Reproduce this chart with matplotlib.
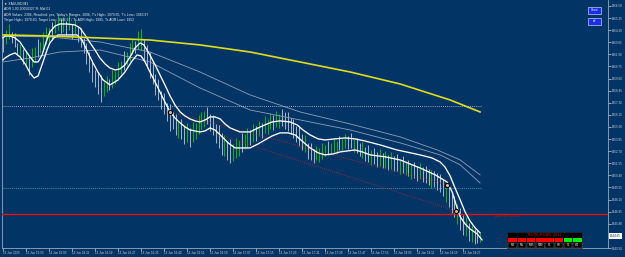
import matplotlib
matplotlib.use('Agg')
import matplotlib.pyplot as plt
import matplotlib.transforms as mtrans
from matplotlib.patches import Rectangle

plt.rcParams['font.family'] = ['Liberation Sans', 'DejaVu Sans']

# M1 bars, XAUUSD (high / low per bar, g = up bar, w = down bar)
highs = [
    1963.5, 1964.2, 1964.8, 1964.0, 1963.9, 1963.0, 1962.9, 1962.4, 1962.3, 1961.8,
    1962.5, 1962.6, 1963.4, 1963.1, 1964.0, 1964.5, 1964.4, 1965.0, 1965.2, 1965.7,
    1965.3, 1965.5, 1965.1, 1965.6, 1964.8, 1965.2, 1964.6, 1964.4, 1963.5, 1963.0,
    1962.1, 1961.4, 1960.4, 1960.2, 1959.9, 1959.3, 1959.8, 1959.6, 1960.4, 1960.3,
    1961.2, 1961.3, 1962.2, 1962.1, 1963.0, 1963.4, 1963.2, 1964.1, 1964.3, 1963.4,
    1962.8, 1962.1, 1961.2, 1960.0, 1959.6, 1958.4, 1958.2, 1957.3, 1957.2, 1956.4,
    1956.2, 1955.6, 1955.8, 1955.1, 1955.4, 1954.9, 1955.5, 1955.4, 1956.1, 1956.4,
    1956.5, 1956.9, 1956.2, 1956.1, 1955.3, 1955.2, 1954.4, 1954.2, 1953.7, 1953.9,
    1953.4, 1954.0, 1953.8, 1954.4, 1954.3, 1954.9, 1954.7, 1955.3, 1955.1, 1955.6,
    1955.4, 1956.0, 1955.8, 1956.3, 1956.1, 1956.5, 1956.2, 1956.7, 1956.4, 1956.4,
    1955.9, 1955.8, 1955.1, 1955.0, 1954.3, 1954.2, 1953.5, 1953.5, 1952.9, 1953.2,
    1953.0, 1953.5, 1953.3, 1953.7, 1953.5, 1953.9, 1953.7, 1954.1, 1953.9, 1954.3,
    1954.1, 1954.4, 1953.9, 1954.0, 1953.5, 1953.6, 1953.1, 1953.3, 1952.8, 1953.0,
    1952.6, 1952.9, 1952.5, 1952.7, 1952.3, 1952.6, 1952.2, 1952.4, 1951.9, 1952.2,
    1951.8, 1951.9, 1951.5, 1951.7, 1951.3, 1951.6, 1951.2, 1951.3, 1951.0, 1950.9,
    1950.8, 1950.6, 1950.5, 1950.1, 1949.7, 1949.3, 1948.6, 1948.4, 1947.7, 1947.3,
    1946.6, 1946.4, 1945.9, 1945.7, 1945.3, 1945.2, 1944.9]
lows = [
    1962.1, 1962.9, 1963.4, 1963.0, 1962.6, 1961.9, 1961.7, 1961.0, 1960.8, 1959.9,
    1960.7, 1961.2, 1961.7, 1962.0, 1962.4, 1962.9, 1963.1, 1963.4, 1963.9, 1964.2,
    1963.9, 1964.0, 1963.7, 1964.2, 1963.4, 1963.8, 1963.1, 1962.6, 1962.0, 1961.0,
    1960.2, 1959.3, 1958.8, 1958.1, 1957.4, 1957.9, 1958.3, 1958.5, 1958.7, 1959.1,
    1959.5, 1960.0, 1960.4, 1960.9, 1961.3, 1961.9, 1962.0, 1962.4, 1962.3, 1961.4,
    1960.6, 1959.7, 1959.1, 1958.0, 1957.6, 1956.7, 1956.2, 1955.6, 1954.6, 1954.8,
    1954.2, 1954.0, 1953.9, 1953.4, 1953.6, 1953.1, 1953.6, 1953.9, 1954.3, 1954.8,
    1955.0, 1955.3, 1954.6, 1954.2, 1953.5, 1953.0, 1952.3, 1952.2, 1951.9, 1951.6,
    1951.8, 1952.1, 1952.2, 1952.6, 1952.9, 1953.1, 1953.3, 1953.6, 1953.7, 1954.1,
    1954.0, 1954.4, 1954.3, 1954.8, 1954.7, 1955.0, 1954.9, 1955.1, 1954.8, 1954.6,
    1954.3, 1954.0, 1953.6, 1953.2, 1952.8, 1952.6, 1952.0, 1951.9, 1951.6, 1951.9,
    1951.7, 1952.0, 1952.2, 1952.3, 1952.4, 1952.6, 1952.5, 1952.8, 1952.7, 1953.0,
    1952.9, 1953.0, 1952.6, 1952.5, 1952.2, 1952.1, 1951.8, 1951.7, 1951.4, 1951.5,
    1951.2, 1951.3, 1951.1, 1951.1, 1950.9, 1951.0, 1950.8, 1950.8, 1950.5, 1950.6,
    1950.4, 1950.3, 1950.1, 1950.2, 1949.9, 1950.1, 1949.8, 1949.7, 1949.5, 1949.2,
    1949.3, 1949.0, 1948.8, 1948.4, 1947.9, 1947.4, 1946.8, 1946.4, 1945.8, 1945.2,
    1944.7, 1944.6, 1944.2, 1944.1, 1943.9, 1944.0, 1944.1]
dirs = ("wggwwwgwgw" "ggwggggwgg" "wgwgwgwwww" "wwwwwggwgg" "ggwgggwggw"
        "wwwwwwwwww" "wgwwgwgggg" "gwwwwwwgww" "gggwggwgwg" "wgggwggwww"
        "wwwwwgwwwg" "gggwgggwgg" "wwgwwgwwgw" "wgwgwgwwgw" "gwgwwgwwwg"
        "wwwwgwwwgw" "wgwgwwg")

# indicator lines as (bar, price)
upper_band = [
    (0, 1963.46), (0.7, 1963.65), (2.4, 1963.65), (4.2, 1963.46), (5.9, 1963.08),
    (7.7, 1962.32), (9.4, 1961.66), (10.8, 1961.18), (12.2, 1961.18), (13.6, 1961.85),
    (15.0, 1963.08), (16.3, 1964.03), (18.1, 1964.60), (19.8, 1964.79), (22.3, 1964.79),
    (25.0, 1964.70), (26.8, 1964.41), (28.5, 1963.75), (30.3, 1962.99), (32.0, 1962.32),
    (33.7, 1961.56), (35.5, 1960.99), (37.2, 1960.61), (39.0, 1960.42), (40.7, 1960.52),
    (42.4, 1960.90), (44.2, 1961.66), (45.9, 1962.51), (47.7, 1962.99), (49.0, 1962.80),
    (51.1, 1961.85), (52.9, 1960.90), (54.6, 1959.95), (56.3, 1959.00), (58.1, 1957.95),
    (59.8, 1957.10), (61.6, 1956.43), (63.3, 1956.05), (65.0, 1955.77), (66.8, 1955.58),
    (68.5, 1955.48), (70.3, 1955.67), (72.0, 1955.96), (73.7, 1955.96), (75.5, 1955.77),
    (77.2, 1955.29), (79.0, 1954.91), (80.7, 1954.72), (82.4, 1954.53), (85.9, 1954.53),
    (88.7, 1954.91), (91.1, 1955.20), (93.6, 1955.48), (96.3, 1955.58), (99.8, 1955.48),
    (102.3, 1955.20), (104.3, 1954.72), (106.8, 1954.25), (109.6, 1953.87), (112.0, 1953.77),
    (115.5, 1953.87), (119.0, 1953.96), (122.4, 1953.87), (125.9, 1953.67), (131.1, 1953.30),
    (137.0, 1952.82), (145.0, 1952.35), (149.2, 1952.06), (152.0, 1951.68), (153.7, 1951.20),
    (155.5, 1950.35), (157.2, 1949.21), (159.0, 1948.07), (160.7, 1946.93), (162.4, 1946.08),
    (164.2, 1945.41), (165.9, 1944.94)]
lower_band = [
    (0, 1961.37), (0.7, 1961.56), (2.4, 1961.85), (4.2, 1962.04), (5.9, 1961.66),
    (7.7, 1960.99), (9.4, 1960.13), (10.8, 1959.66), (12.2, 1959.85), (13.9, 1961.18),
    (15.3, 1962.32), (16.3, 1962.99), (17.7, 1963.46), (19.1, 1963.75), (22.3, 1963.75),
    (25.7, 1963.75), (27.5, 1963.27), (29.6, 1962.04), (31.3, 1961.09), (33.0, 1960.23),
    (34.8, 1959.47), (37.2, 1959.00), (40.0, 1959.47), (42.4, 1960.23), (44.9, 1961.28),
    (46.6, 1961.85), (48.0, 1961.75), (49.4, 1961.18), (51.1, 1960.23), (52.9, 1959.28),
    (54.6, 1958.33), (56.3, 1957.38), (58.1, 1956.43), (59.8, 1955.86), (61.6, 1955.39),
    (63.3, 1955.01), (65.0, 1954.72), (68.5, 1954.53), (70.3, 1954.63), (72.0, 1954.91),
    (73.7, 1954.72), (75.5, 1954.25), (78.3, 1953.49), (80.7, 1953.01), (85.9, 1953.01),
    (88.7, 1953.39), (91.1, 1953.77), (93.6, 1954.15), (96.3, 1954.44), (99.1, 1954.44),
    (101.6, 1954.25), (104.0, 1953.67), (106.8, 1953.01), (109.6, 1952.54), (112.0, 1952.35),
    (114.8, 1952.44), (117.2, 1952.63), (122.4, 1952.82), (124.9, 1952.63), (127.7, 1952.35),
    (132.9, 1952.16), (138.1, 1951.87), (145.0, 1951.11), (150.3, 1950.45), (154.4, 1949.78),
    (156.2, 1948.83), (157.6, 1947.60), (159.0, 1946.46), (160.7, 1945.79), (162.4, 1945.32),
    (164.9, 1944.84), (166.6, 1944.27)]
slow_upper = [
    (0, 1963.65), (16.3, 1963.56), (33.7, 1963.08), (51.1, 1962.13), (68.5, 1960.23),
    (85.9, 1958.05), (103.3, 1956.43), (120.7, 1955.29), (138.1, 1954.06), (151.0, 1952.82),
    (159.0, 1951.87), (165.9, 1950.45)]
slow_lower = [
    (0, 1961.18), (9.4, 1961.56), (19.8, 1962.13), (33.7, 1962.32), (51.1, 1961.18),
    (68.5, 1958.71), (85.9, 1956.62), (103.3, 1955.67), (120.7, 1954.72), (138.1, 1953.49),
    (152.0, 1952.35), (159.0, 1951.40), (165.9, 1949.69)]
ma200 = [
    (0, 1963.75), (16.3, 1963.65), (33.7, 1963.46), (51.1, 1963.27), (68.5, 1962.80),
    (85.9, 1962.13), (103.3, 1961.18), (120.7, 1960.23), (138.1, 1959.09), (155.5, 1957.57),
    (165.9, 1956.43)]

# pivots and trend lines
piv_x = [58.1, 154.4, 157.6]
piv_y = [1956.43, 1949.50, 1947.03]
tl1_x = [58.1, 154.4]
tl1_y = [1956.43, 1949.50]
tl2_x = [73.7, 157.6]
tl2_y = [1954.34, 1947.03]

level_hi = 1957.00
level_mid = 1949.21
adr_low = 1946.73
last_price = 1944.65

y_ticks = [1943.50 + 1.15 * k for k in range(21)]
x_ticks = list(range(0, 161, 8))
x_labels = ['13 Jun 2023', '13 Jun 15:55', '13 Jun 16:03', '13 Jun 16:11', '13 Jun 16:19',
            '13 Jun 16:27', '13 Jun 16:35', '13 Jun 16:43', '13 Jun 16:51', '13 Jun 16:59',
            '13 Jun 17:07', '13 Jun 17:15', '13 Jun 17:23', '13 Jun 17:31', '13 Jun 17:39',
            '13 Jun 17:47', '13 Jun 17:55', '13 Jun 18:03', '13 Jun 18:11', '13 Jun 18:19',
            '13 Jun 18:27']

tf_names = ['M1', 'M5', 'M15', 'M30', 'H1', 'H4', 'D1', 'W1']
tf_state = ['r', 'r', 'r', 'r', 'r', 'r', 'g', 'g']

bg = '#033466'
fg = '#c9d3de'
W, H = 625, 257

fig = plt.figure(figsize=(6.25, 2.57), dpi=100)
fig.patch.set_facecolor(bg)
ax = fig.add_axes([2 / W, 9 / H, 606 / W, 248 / H])
ax.set_facecolor(bg)

bars_x = list(range(len(highs)))
cols = ['#14b414' if d == 'g' else '#a9b6c9' for d in dirs]
ax.vlines(bars_x, lows, highs, colors=cols, lw=0.7, zorder=2)

def line(pts, **kw):
    xs = [p[0] for p in pts]
    ys = [p[1] for p in pts]
    ax.plot(xs, ys, solid_joinstyle='round', **kw)

line(slow_upper, color='#8e9fb6', lw=0.6, zorder=3)
line(slow_lower, color='#8e9fb6', lw=0.6, zorder=3)
line(upper_band, color='white', lw=0.95, zorder=4)
line(lower_band, color='white', lw=0.95, zorder=4)
line(ma200, color='#dede1c', lw=1.2, zorder=4)

ax.plot([0, 166.5], [level_hi, level_hi], color='#c8d0dc', lw=0.6, ls=(0, (1, 1.5)), zorder=3)
ax.plot([0, 166.5], [level_mid, level_mid], color='#3fb8d0', lw=0.6, ls=(0, (1, 1.5)), zorder=3)
ax.axhline(adr_low, color='#e01010', lw=1.0, zorder=3)

ax.plot(tl1_x, tl1_y, color='#b02828', lw=0.6, ls=(0, (1, 1.5)), zorder=3)
ax.plot(tl2_x, tl2_y, color='#b02828', lw=0.6, ls=(0, (1, 1.5)), zorder=3)
ax.scatter(piv_x, piv_y, s=9, c='#f0b090', edgecolors='black', linewidths=0.8, zorder=6)

ax.set_xlim(-0.35, 210.4)
ax.set_ylim(1943.5, 1967.07)

ax.yaxis.tick_right()
ax.set_yticks(y_ticks)
ax.set_yticklabels(['' if abs(v - last_price) < 0.01 else '%.2f' % v for v in y_ticks])
ax.set_xticks(x_ticks)
ax.set_xticklabels(x_labels, ha='left')
ax.tick_params(axis='both', colors=fg, labelsize=2.2, length=2, width=0.5, pad=1)
ax.tick_params(axis='x', pad=0.5)
for s in ['left', 'right', 'bottom']:
    ax.spines[s].set_color('#9aa8b8')
    ax.spines[s].set_linewidth(0.6)
ax.spines['top'].set_visible(False)

# current price box on the price scale
tr = mtrans.blended_transform_factory(ax.transAxes, ax.transData)
ax.text(1.003, last_price, '%.2f' % last_price, transform=tr, fontsize=2.2, color='#10203a',
        va='center', ha='left', bbox=dict(boxstyle='square,pad=0.25', fc='white', ec='none'))

# adr low label
ax.text(171, adr_low - 0.2, 'ADR Low: %.2f' % adr_low, color='#c01010', fontsize=2.2,
        va='center', ha='left')

def fx(x):
    return x / W

def fy(y):
    return 1 - y / H

# info text, top left
info = ['\u25bc XAUUSD,M1',
        'ADR 1.00 20050327 R: Mid 01',
        "ADR Values: 2306, Reached: yes, Today's Ranges: 2006, T's High= 1970.65, T's Low= 1963.97",
        'Target High= 1970.60, Target Low= 1946.67 / Ts ADR High= 1985, Ts ADR Low= 1952']
for k, t in enumerate(info):
    fig.text(fx(4), fy(4 + 5.3 * k), t, color='#e8eef4', fontsize=2.4, va='center', ha='left')

# buttons
for y0, lab in [(7, 'Show'), (18, 'off')]:
    fig.patches.append(Rectangle((fx(588), fy(y0 + 6.5)), 13 / W, 6.5 / H, transform=fig.transFigure,
                                 fc='#1a2ee8', ec='#c0c8ff', lw=0.5))
    fig.text(fx(594.5), fy(y0 + 3.3), lab, color='white', fontsize=2.2, ha='center', va='center')

# multi timeframe panel
fig.patches.append(Rectangle((fx(507), fy(248)), 75 / W, 16 / H, transform=fig.transFigure,
                             fc='black', ec='#303030', lw=0.4))
fig.text(fx(544.5), fy(235), 'RSI(D)+RSI(W): 29.12', color='#e01010', fontsize=2.4,
         ha='center', va='center')
cw = 74 / len(tf_names)
for k, (n, st) in enumerate(zip(tf_names, tf_state)):
    x0 = 508 + k * cw
    fig.patches.append(Rectangle((fx(x0 + 0.4), fy(241.5)), (cw - 0.8) / W, 4 / H,
                                 transform=fig.transFigure,
                                 fc='#ff0000' if st == 'r' else '#00ee00', ec='none'))
    fig.patches.append(Rectangle((fx(x0 + 0.4), fy(247.5)), (cw - 0.8) / W, 5 / H,
                                 transform=fig.transFigure, fc='black', ec='#808080', lw=0.3))
    fig.text(fx(x0 + cw / 2), fy(245), n, color='white', fontsize=2.0, ha='center', va='center')

fig.savefig('out.png', dpi=100, facecolor=bg)
